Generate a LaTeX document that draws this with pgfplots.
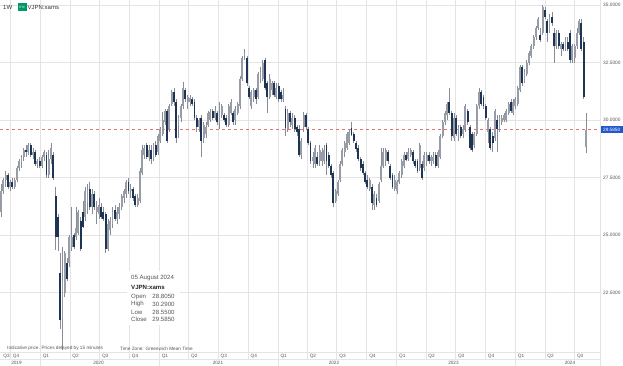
\documentclass[border=0pt]{standalone}
\usepackage{fontspec}
\setmainfont{Liberation Sans}
\usepackage{pgfplots}
\usepackage{pgfplotstable}
\pgfplotsset{compat=1.18}
\definecolor{upc}{HTML}{979CA7}
\definecolor{dnc}{HTML}{1E3454}
\definecolor{wick}{HTML}{878C97}
\definecolor{gridc}{HTML}{E4E4E4}
\definecolor{txt}{HTML}{555555}
\definecolor{lastblue}{HTML}{2257D0}
\definecolor{reddash}{HTML}{E57373}

\pgfplotstableread{
k O H L C
0 26.0 27.2 25.8 26.9
1 26.9 27.5 26.8 27.4
2 27.4 27.8 27.1 27.6
4 27.1 27.4 26.9 27.3
6 27.1 27.5 27.0 27.4
7 27.4 28.0 27.3 27.9
8 27.9 28.3 27.8 28.2
9 28.2 28.5 27.9 28.4
10 28.4 28.8 28.2 28.7
12 28.6 29.0 28.5 28.9
14 28.5 28.8 28.3 28.6
16 28.1 28.3 27.9 28.2
18 28.0 28.5 27.9 28.4
19 28.4 28.7 28.2 28.6
21 27.6 28.7 27.5 28.3
22 28.3 29.0 28.1 28.8
27 21.4 24.5 20.0 23.0
28 22.5 24.3 22.3 24.2
30 23.8 25.0 23.6 24.9
31 24.5 26.2 24.3 24.9
33 24.9 26.2 24.8 25.3
34 25.1 26.1 25.0 26.0
37 25.8 27.1 25.6 26.9
38 26.4 27.2 25.9 27.0
40 26.2 27.0 25.9 26.8
42 26.0 26.5 25.5 26.2
43 25.9 26.6 25.7 26.3
47 24.4 25.7 24.3 25.5
48 25.2 25.8 25.0 25.6
49 25.5 26.2 25.3 26.0
51 25.7 26.2 25.5 26.0
52 25.9 26.4 25.7 26.2
53 26.2 26.8 26.1 26.7
54 26.6 27.0 26.4 26.9
55 26.8 27.4 26.6 27.3
57 26.9 27.2 26.6 27.0
60 26.3 26.8 26.2 26.6
61 26.5 27.9 26.4 27.8
62 27.7 28.9 27.6 28.7
63 28.5 28.9 28.3 28.8
65 28.4 28.9 28.2 28.7
67 28.3 29.0 28.2 28.9
69 28.6 29.4 28.5 29.3
70 29.1 29.7 29.0 29.6
71 29.4 30.35 29.3 30.0
72 29.9 30.5 29.8 30.4
74 29.6 30.7 29.5 30.6
75 30.7 31.3 30.6 31.2
78 29.8 30.2 29.2 30.1
79 30.1 30.7 29.9 30.6
80 30.6 31.65 30.5 31.4
82 30.8 31.1 30.5 31.0
83 30.8 31.1 30.6 30.95
87 29.7 30.1 29.5 30.0
89 29.2 29.9 29.0 29.8
90 29.4 29.9 29.2 29.7
91 29.8 30.4 29.7 30.3
92 30.0 30.5 29.9 30.35
94 30.1 30.6 30.0 30.4
96 29.9 30.8 29.6 30.3
97 30.2 30.7 30.1 30.6
100 29.8 30.7 29.7 30.6
101 30.3 30.9 30.2 30.8
103 30.0 30.6 29.8 30.5
104 30.3 30.8 30.2 30.7
105 30.6 31.9 30.5 31.8
106 31.8 32.8 31.7 32.7
107 32.8 33.1 32.6 32.9
110 30.6 31.3 30.5 31.2
111 31.0 31.4 30.8 31.3
113 31.0 32.1 30.9 32.0
114 31.8 32.3 31.6 32.1
115 31.8 32.6 31.7 32.5
118 31.0 32.0 30.9 31.8
119 31.3 31.7 31.1 31.6
121 31.0 31.6 30.9 31.4
124 30.9 31.4 30.8 31.1
126 29.6 30.5 29.5 30.3
128 29.8 30.3 29.6 30.1
132 28.5 29.2 28.3 29.1
133 29.7 30.35 29.5 30.2
137 28.2 28.6 27.9 28.4
138 28.1 28.9 27.9 28.8
140 28.2 28.9 28.0 28.7
141 28.2 28.8 28.0 28.6
142 28.2 28.9 28.1 28.7
147 26.5 27.0 26.4 26.9
148 26.8 27.4 26.7 27.3
149 27.4 28.2 27.3 28.1
150 28.1 28.8 28.0 28.7
151 28.6 29.1 28.4 29.0
152 28.8 29.5 28.7 29.4
153 29.0 29.6 28.9 29.5
162 27.0 27.5 26.9 27.4
164 26.3 26.9 26.1 26.8
166 26.5 27.3 26.4 27.2
167 27.4 28.8 27.3 28.0
168 28.0 28.8 27.9 28.6
169 28.2 28.8 28.0 28.7
173 27.0 27.6 26.9 27.4
174 26.9 27.4 26.8 27.3
175 27.3 27.8 27.2 27.7
176 27.6 28.3 27.5 28.2
177 28.0 28.6 27.9 28.5
179 28.3 28.8 28.2 28.6
180 28.5 28.8 28.4 28.7
184 27.9 29.0 27.8 28.9
186 27.9 28.6 27.8 28.5
187 28.2 28.6 28.0 28.5
189 28.2 28.5 28.0 28.4
190 28.2 28.6 28.1 28.4
192 28.0 28.7 27.9 28.6
193 28.4 29.4 28.3 29.3
194 29.3 30.0 29.2 29.9
195 29.9 30.4 29.8 30.3
196 30.2 30.8 30.0 30.7
199 29.2 30.3 29.1 30.1
201 29.3 29.8 29.1 29.7
203 29.4 29.8 29.2 29.6
204 29.6 30.7 29.5 30.6
208 28.9 29.5 28.8 29.4
209 29.4 30.7 29.3 30.6
210 30.6 31.4 30.5 31.2
214 29.5 30.1 29.0 30.0
217 29.2 30.5 29.1 30.4
219 29.6 30.2 29.5 30.1
220 29.9 30.2 29.8 30.1
221 30.0 30.3 29.9 30.2
222 30.0 30.5 29.9 30.4
223 30.3 30.8 30.2 30.7
225 30.3 30.9 30.2 30.8
226 30.6 31.0 30.5 30.9
227 30.7 31.5 30.6 31.4
228 31.3 32.4 31.2 32.3
230 31.7 32.2 31.6 32.1
231 32.0 32.6 31.9 32.5
232 32.5 33.0 32.4 32.9
233 32.8 33.3 32.7 33.2
234 33.2 33.7 33.1 33.6
235 33.6 34.1 33.5 34.0
236 34.0 34.5 33.9 34.4
238 33.8 35.0 33.7 34.9
241 33.9 34.6 33.8 34.5
244 33.2 33.9 33.1 33.8
246 33.1 33.4 32.8 33.3
248 33.1 33.6 33.0 33.5
251 32.6 33.3 32.5 33.2
252 32.7 33.3 32.5 33.2
253 33.2 34.0 33.1 33.8
254 33.8 34.4 33.7 34.3
257 28.805 30.29 28.55 29.585
}\up

\pgfplotstableread{
k O H L C
3 27.6 27.7 27.0 27.1
5 27.3 27.5 27.0 27.1
11 28.7 28.9 28.4 28.6
13 28.9 29.0 28.4 28.5
15 28.6 28.7 28.0 28.1
17 28.2 28.4 27.9 28.0
20 28.5 28.6 27.5 27.6
23 28.5 28.6 27.4 27.5
24 26.7 27.1 24.35 24.9
25 25.8 25.9 24.3 24.9
26 23.35 24.2 20.9 21.3
29 23.8 24.0 23.0 23.1
32 25.0 25.1 24.4 24.5
35 25.6 25.8 24.3 24.4
36 26.0 26.5 25.3 25.35
39 27.0 27.3 26.1 26.2
41 26.8 26.9 26.1 26.2
44 26.2 26.4 25.7 25.8
45 26.0 26.2 25.6 25.7
46 25.9 26.0 24.2 24.4
50 26.1 26.3 25.6 25.7
56 27.3 27.5 26.8 26.9
58 27.0 27.1 26.5 26.6
59 26.7 26.8 26.2 26.3
64 28.9 29.0 28.3 28.4
66 28.7 28.9 28.1 28.3
68 28.9 29.1 28.4 28.5
73 30.4 30.5 29.0 29.1
76 31.2 31.4 30.6 30.8
77 30.8 30.9 29.0 29.2
81 31.3 31.4 30.8 30.9
84 30.9 31.0 30.6 30.7
85 30.8 30.9 30.0 30.1
86 30.1 30.2 29.5 29.7
88 30.1 30.2 28.4 29.1
93 30.4 30.5 30.0 30.1
95 30.3 30.4 29.8 29.9
98 30.2 30.3 29.9 30.0
99 30.1 30.2 29.7 29.8
102 30.3 30.4 29.8 29.9
108 32.7 32.8 31.5 31.6
109 31.4 31.5 30.9 31.0
112 31.3 31.4 30.7 30.9
116 32.6 32.7 31.3 31.4
117 31.6 31.7 30.3 31.0
120 31.6 31.7 31.0 31.1
122 31.5 31.6 30.8 30.9
123 31.2 31.3 30.8 30.9
125 30.5 30.6 29.3 29.65
127 30.3 30.4 29.7 29.9
129 30.1 30.2 29.5 29.6
130 29.7 29.8 29.3 29.5
131 29.6 29.8 28.4 28.5
134 30.2 30.3 29.6 29.7
135 29.6 29.7 28.9 29.0
136 29.0 29.1 28.1 28.2
139 28.4 28.6 28.0 28.1
143 28.9 29.0 27.6 28.2
144 28.5 28.6 27.9 28.0
145 28.0 28.1 27.5 27.6
146 27.7 27.8 26.2 26.4
154 29.65 29.9 29.3 29.35
155 29.4 29.5 29.0 29.1
156 29.0 29.1 28.6 28.75
157 28.8 28.9 28.2 28.3
158 28.3 28.4 27.8 27.9
159 28.1 28.2 27.6 27.7
160 27.7 27.8 27.2 27.3
161 27.4 27.6 27.0 27.1
163 27.1 27.2 26.1 26.4
165 26.6 26.8 26.2 26.3
170 28.6 28.7 28.1 28.2
171 28.0 28.1 27.4 27.5
172 27.6 27.7 27.0 27.1
178 28.5 28.6 28.2 28.25
181 28.6 28.7 28.1 28.2
182 28.2 28.3 27.9 28.0
183 28.2 28.3 27.7 27.8
185 28.1 28.2 27.4 27.5
188 28.5 28.6 28.1 28.2
191 28.5 28.6 27.9 28.0
197 30.8 31.4 30.2 30.3
198 30.3 30.4 29.1 29.3
200 30.1 30.2 29.3 29.4
202 29.7 29.8 29.2 29.3
205 30.4 30.5 29.8 29.9
206 29.7 29.8 28.7 28.8
207 29.4 29.5 28.6 28.7
211 31.2 31.3 30.6 30.7
212 31.0 31.1 30.5 30.6
213 30.6 30.7 30.0 30.1
215 29.6 29.7 28.7 28.8
216 29.3 29.5 28.6 29.0
218 30.0 30.2 28.6 29.6
224 30.8 30.9 30.3 30.4
229 32.3 32.4 31.5 31.6
237 33.7 34.0 33.4 33.5
239 34.8 34.9 34.4 34.5
240 34.3 34.4 33.4 33.8
242 34.5 34.7 34.1 34.2
243 33.8 34.0 32.5 33.2
245 33.8 33.9 33.1 33.2
247 33.3 33.4 33.0 33.1
249 33.4 33.6 33.0 33.1
250 33.8 33.9 32.5 32.6
255 34.2 34.4 33.0 33.1
256 33.4 33.6 30.9 31.0
}\dn

\begin{document}
\begin{tikzpicture}
\useasboundingbox (0,0) rectangle (623bp,-366bp);
\begin{axis}[
  at={(0,0)}, anchor=north west,
  scale only axis, width=600bp, height=352.5bp,
  xmin=-0.4394, xmax=263.18, ymin=19.8913, ymax=35.2174,
  axis line style={draw=none},
  major tick length=0pt,
  xtick={4.143,17.286,30.286,43.286,56.429,69.571,82.429,95.429,108.571,121.714,134.571,147.571,160.714,173.857,186.714,199.714,212.857,226,239,252},
  xticklabels={},
  ytick={22.5,25,27.5,30,32.5,35},
  yticklabel pos=right,
  yticklabel style={anchor=west, inner sep=0pt, xshift=3bp, text=txt, font=\fontsize{4.8bp}{5.5bp}\selectfont,
    /pgf/number format/.cd, fixed, fixed zerofill, precision=4, assume math mode=true},
  grid=major,
  major grid style={draw=gridc, line width=0.8bp},
  clip=false,
]
\addplot[draw=reddash, line width=0.8bp, dash pattern=on 3bp off 3bp] coordinates {(-0.4394,29.585) (263.18,29.585)};
\addplot[mark=none, -, draw=wick, line width=0.6bp, quiver={u=0, v=\thisrow{H}-\thisrow{L}}]
  table[x=k, y=L] {\up};
\addplot[mark=none, -, draw=wick, line width=0.6bp, quiver={u=0, v=\thisrow{H}-\thisrow{L}}]
  table[x=k, y=L] {\dn};
\addplot[mark=none, -, draw=upc, line width=1.9bp, quiver={u=0, v=\thisrow{C}-\thisrow{O}}]
  table[x=k, y=O] {\up};
\addplot[mark=none, -, draw=dnc, line width=1.9bp, quiver={u=0, v=\thisrow{O}-\thisrow{C}}]
  table[x=k, y=C] {\dn};
\end{axis}
\begin{scope}[x=1bp, y=-1bp, font=\fontsize{4.7bp}{5.5bp}\selectfont]
  % bottom band
  \draw[gridc, line width=0.8bp] (0,352.5) -- (600,352.5);
  \draw[gridc, line width=0.8bp] (0,359.3) -- (600,359.3);
  \draw[gridc, line width=0.8bp] (600,0) -- (600,366);
  \foreach \q in {10.43,40.34,69.93,99.52,129.43,159.34,188.61,218.20,248.11,278.02,307.28,336.87,366.78,396.70,425.96,455.55,485.46,515.38,544.96,574.55}
    \draw[gridc, line width=0.8bp] (\q,352.5) -- (\q,359.3);
  \foreach \q in {40.34,159.34,278.02,396.70,515.38}
    \draw[gridc, line width=0.8bp] (\q,359.3) -- (\q,366);
  \foreach \q/\t in {1/Q3,10.43/Q4,40.34/Q1,69.93/Q2,99.52/Q3,129.43/Q4,159.34/Q1,188.61/Q2,218.20/Q3,248.11/Q4,278.02/Q1,307.28/Q2,336.87/Q3,366.78/Q4,396.70/Q1,425.96/Q2,455.55/Q3,485.46/Q4,515.38/Q1,544.96/Q2,574.55/Q3}
    \node[anchor=west, inner sep=0pt, text=txt] at (\q+2.3,356) {\t};
  \foreach \q/\t in {16.5/2019,98.5/2020,218/2021,334/2022,453.5/2023,570/2024}
    \node[inner sep=0pt, text=txt] at (\q,362.8) {\t};
  % footer
  \node[anchor=west, inner sep=0pt, text=txt] at (7,348.5) {Indicative price. Prices delayed by 15 minutes};
  \node[anchor=west, inner sep=0pt, text=txt] at (120,348.5) {Time Zone: Greenwich Mean Time};
  % last price label
  \fill[lastblue] (601,125.8) rectangle (622.5,133.2);
  \node[inner sep=0pt, text=white] at (611.7,129.5) {29.5850};
  % header
  \node[anchor=west, inner sep=0pt, text=black!80, font=\fontsize{6bp}{7bp}\selectfont] at (3,7) {1W};
  \fill[teal!80!green] (18,3.3) rectangle (26.5,11);
  \node[inner sep=0pt, text=white, font=\fontsize{3bp}{3bp}\selectfont] at (22.25,7.15) {ETF};
  \node[anchor=west, inner sep=0pt, text=black!80, font=\fontsize{6bp}{7bp}\selectfont] at (27.5,7) {VJPN:xams};
  % tooltip
  \fill[white] (127,271) rectangle (180,325);
  \begin{scope}[font=\fontsize{6.1bp}{7bp}\selectfont]
  \node[anchor=west, inner sep=0pt, text=txt] at (131,277.7) {05 August 2024};
  \node[anchor=west, inner sep=0pt, text=black!85] at (131,287.7) {\bfseries VJPN:xams};
  \node[anchor=west, inner sep=0pt, text=txt] at (131,296.7) {Open};
  \node[anchor=west, inner sep=0pt, text=txt] at (152.3,296.7) {28.8050};
  \node[anchor=west, inner sep=0pt, text=txt] at (131,304.3) {High};
  \node[anchor=west, inner sep=0pt, text=txt] at (152.3,304.3) {30.2900};
  \node[anchor=west, inner sep=0pt, text=txt] at (131,312) {Low};
  \node[anchor=west, inner sep=0pt, text=txt] at (152.3,312) {28.5500};
  \node[anchor=west, inner sep=0pt, text=txt] at (131,319.3) {Close};
  \node[anchor=west, inner sep=0pt, text=txt] at (152.3,319.3) {29.5850};
  \end{scope}
\end{scope}
\end{tikzpicture}
\end{document}
